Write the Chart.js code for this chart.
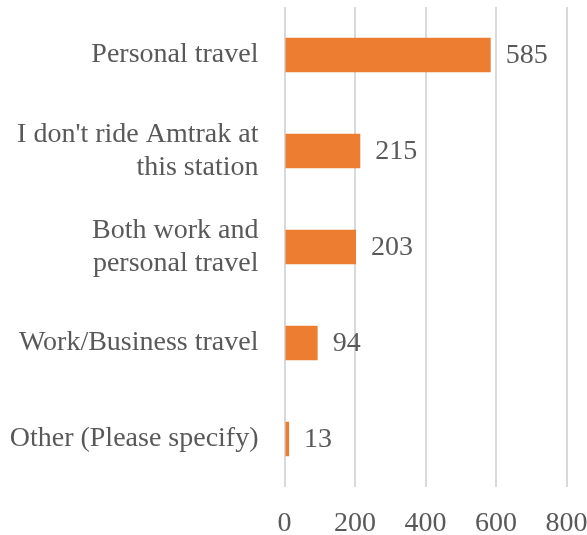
<!DOCTYPE html>
<html>
<head>
<meta charset="utf-8">
<script src="https://cdn.jsdelivr.net/npm/chart.js@4"></script>
<style>
  html, body { margin: 0; padding: 0; background: #fff; }
</style>
</head>
<body>
<canvas id="chart" width="587" height="535"></canvas>
<script>
const categories = [
  "Personal travel",
  ["I don't ride Amtrak at", "this station"],
  ["Both work and", "personal travel"],
  "Work/Business travel",
  "Other (Please specify)",
];
const responses = [585, 215, 203, 94, 13];
const xTicks = [0, 200, 400, 600, 800];

const FONT = "'Liberation Serif', 'Times New Roman', serif";
const TEXT = "#595959";
const SIZE = 28;

// writes each bar's count just past its end
const valueLabels = {
  id: "valueLabels",
  afterDatasetsDraw(chart) {
    const ctx = chart.ctx;
    const meta = chart.getDatasetMeta(0);
    ctx.save();
    ctx.font = SIZE + "px " + FONT;
    ctx.fillStyle = TEXT;
    ctx.textAlign = "left";
    ctx.textBaseline = "middle";
    meta.data.forEach((bar, i) => {
      ctx.fillText(String(responses[i]), bar.x + 15, bar.y + 1);
    });
    ctx.restore();
  },
};

// keep the scales from reserving room for label overhang
function noOverhang(scale) {
  scale.paddingTop = 0;
  scale.paddingBottom = 0;
  scale.paddingLeft = 0;
  scale.paddingRight = 0;
}

new Chart(document.getElementById("chart").getContext("2d"), {
  type: "bar",
  data: {
    labels: categories,
    datasets: [
      {
        data: responses,
        backgroundColor: "#ED7D31",
        borderWidth: 0,
        categoryPercentage: 1,
        barPercentage: 0.36,
      },
    ],
  },
  options: {
    indexAxis: "y",
    responsive: false,
    animation: false,
    layout: { padding: { top: 7, right: 20.5, left: 0, bottom: 0 } },
    plugins: {
      legend: { display: false },
      tooltip: { enabled: false },
    },
    scales: {
      x: {
        min: 0,
        max: 800,
        afterBuildTicks(scale) {
          scale.ticks = xTicks.map((v) => ({ value: v }));
        },
        afterFit(scale) {
          scale.height = 48;
          noOverhang(scale);
        },
        border: { display: false },
        grid: { color: "#d9d9d9", lineWidth: 2, drawTicks: false },
        ticks: {
          padding: 20,
          color: TEXT,
          font: { family: FONT, size: SIZE },
          maxRotation: 0,
        },
      },
      y: {
        afterFit(scale) {
          scale.width = 284.5;
          noOverhang(scale);
        },
        border: { display: false },
        grid: { display: false, drawTicks: false },
        ticks: {
          padding: 26,
          color: TEXT,
          font: { family: FONT, size: SIZE, lineHeight: 1.2 },
        },
      },
    },
  },
  plugins: [valueLabels],
});
</script>
</body>
</html>
